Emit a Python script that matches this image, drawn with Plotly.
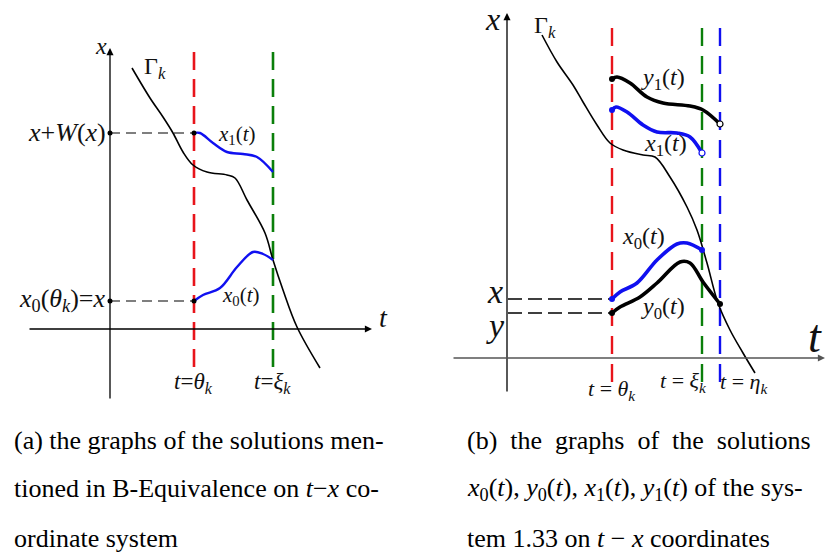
import plotly.graph_objects as go

W, H = 827, 557

# ---------------- Panel (a) data (t, x) in diagram units ----------------
gamma_a_t = [22, 40, 53, 63, 73, 83, 97, 117, 125, 137, 155, 163, 173, 187, 210]
gamma_a_x = [261, 231, 212, 196, 177, 164, 157, 154, 151, 129, 96, 69, 39, 2, -39]
x1_a_t = [84, 90, 103, 117, 133, 147, 163]
x1_a_x = [196, 196, 186, 177, 175, 172, 157]
x0_a_t = [84, 93, 110, 127, 143, 153, 163]
x0_a_x = [28, 34, 41, 62, 77, 75, 69]
theta_a, xi_a = 84, 163
xw_level, x0_level = 196, 28

# ---------------- Panel (b) data ----------------
gamma_b_t = [35, 50, 66, 76, 90, 103, 116, 136, 148, 163, 180, 190, 200, 211, 223, 236, 248]
gamma_b_x = [323, 296, 273, 256, 233, 215, 208, 203, 201, 181, 151, 128, 95, 55, 28, 5, -15]
y1_b_t = [105, 110, 123, 140, 156, 183, 196, 213]
y1_b_x = [279, 281, 275, 261, 255, 252, 248, 234]
x1_b_t = [105, 109, 120, 136, 150, 170, 183, 195]
x1_b_x = [248, 251, 246, 233, 226, 225, 221, 205]
x0_b_t = [105, 113, 130, 150, 170, 180, 195]
x0_b_x = [59, 66, 75, 98, 114, 115, 108]
y0_b_t = [105, 113, 133, 150, 173, 183, 196, 213]
y0_b_x = [45, 51, 61, 75, 96, 95, 76, 54]
theta_b, xi_b, eta_b = 105, 195, 213

RED = "#e8141b"
GREEN = "#0a7f0a"
BLUE = "#1010f0"
SERIF = "Liberation Serif"

fig = go.Figure()


def line(t, x, ax, color, width, dash=None, shape="linear"):
    fig.add_trace(go.Scatter(
        x=t, y=x, mode="lines", xaxis="x" + ax, yaxis="y" + ax,
        line=dict(color=color, width=width, dash=dash, shape=shape, smoothing=1.0),
        hoverinfo="skip", showlegend=False))


def dots(t, x, ax, color, size, fill=None):
    fig.add_trace(go.Scatter(
        x=t, y=x, mode="markers", xaxis="x" + ax, yaxis="y" + ax,
        marker=dict(color=fill or color, size=size, line=dict(color=color, width=1.2 if fill else 0)),
        hoverinfo="skip", showlegend=False))


# ---- panel a ----
line([theta_a, theta_a], [277, -41], "", RED, 2.6, "18px,9px")
line([xi_a, xi_a], [277, -41], "", GREEN, 2.6, "18px,9px")
line([0, theta_a], [xw_level, xw_level], "", "#555555", 1.6, "10px,6px")
line([0, theta_a], [x0_level, x0_level], "", "#555555", 1.6, "10px,6px")
line(gamma_a_t, gamma_a_x, "", "black", 1.6, shape="spline")
line(x1_a_t, x1_a_x, "", BLUE, 2.4, shape="spline")
line(x0_a_t, x0_a_x, "", BLUE, 2.4, shape="spline")
dots([0, theta_a, 0, theta_a], [xw_level, xw_level, x0_level, x0_level], "", "black", 5)

# ---- panel b ----
line([theta_b, theta_b], [330, -27], "2", RED, 2.4, "18px,10px")
line([xi_b, xi_b], [330, -27], "2", GREEN, 2.4, "18px,10px")
line([eta_b, eta_b], [330, -27], "2", BLUE, 2.4, "18px,10px")
line([1, theta_b], [x0_b_x[0], x0_b_x[0]], "2", "black", 1.6, "14px,6px")
line([1, theta_b], [y0_b_x[0], y0_b_x[0]], "2", "black", 1.6, "14px,6px")
line(gamma_b_t, gamma_b_x, "2", "black", 1.6, shape="spline")
line(y1_b_t, y1_b_x, "2", "black", 3.6, shape="spline")
line(x1_b_t, x1_b_x, "2", BLUE, 3.6, shape="spline")
line(x0_b_t, x0_b_x, "2", BLUE, 3.6, shape="spline")
line(y0_b_t, y0_b_x, "2", "black", 3.6, shape="spline")
dots([y1_b_t[0], y0_b_t[0], y0_b_t[-1]], [y1_b_x[0], y0_b_x[0], y0_b_x[-1]], "2", "black", 6)
dots([x1_b_t[0], x0_b_t[0], x0_b_t[-1]], [x1_b_x[0], x0_b_x[0], x0_b_x[-1]], "2", BLUE, 6)
dots([y1_b_t[-1]], [y1_b_x[-1]], "2", "black", 6, fill="white")
dots([x1_b_t[-1]], [x1_b_x[-1]], "2", BLUE, 6, fill="white")

ann = []


def arrow(ax, t0, x0, t1, x1, color="black"):
    ann.append(dict(xref="x" + ax, yref="y" + ax, axref="x" + ax, ayref="y" + ax,
                    x=t1, y=x1, ax=t0, ay=x0, showarrow=True, arrowhead=2,
                    arrowsize=1.1, arrowwidth=1.3, arrowcolor=color, text=""))


def label(ax, t, x, text, size, xanchor="center"):
    ann.append(dict(xref="x" + ax, yref="y" + ax, x=t, y=x, text=text, showarrow=False,
                    xanchor=xanchor, yanchor="middle",
                    font=dict(family=SERIF, size=size, color="#111111")))


# axes panel a
arrow("", 0, -71, 0, 281)
arrow("", -82, 0, 262, 0)
label("", -9, 283, "<i>x</i>", 24)
label("", 273, 12, "<i>t</i>", 28)
label("", 45, 261, "Γ<sub><i>k</i></sub>", 24)
label("", -2, xw_level + 1, "<i>x</i>+<i>W</i>(<i>x</i>)", 26, "right")
label("", -2, x0_level + 1, "<i>x</i><sub>0</sub>(<i>θ</i><sub><i>k</i></sub>)=<i>x</i>", 26, "right")
label("", 127, 194, "<i>x</i><sub>1</sub>(<i>t</i>)", 21)
label("", 131, 33, "<i>x</i><sub>0</sub>(<i>t</i>)", 21)
label("", 83, -54, "<i>t</i>=<i>θ</i><sub><i>k</i></sub>", 23)
label("", 162, -54, "<i>t</i>=<i>ξ</i><sub><i>k</i></sub>", 23)

# axes panel b
arrow("2", 0, -35, 0, 345)
arrow("2", -55, 0, 318, 0, "#555555")
label("2", -15, 339, "<i>x</i>", 32)
label("2", 308, 22, "<i>t</i>", 46)
label("2", 38, 331, "Γ<sub><i>k</i></sub>", 24)
label("2", 156, 279, "<i>y</i><sub>1</sub>(<i>t</i>)", 24)
label("2", 158, 213, "<i>x</i><sub>1</sub>(<i>t</i>)", 24)
label("2", 136, 120, "<i>x</i><sub>0</sub>(<i>t</i>)", 24)
label("2", 156, 50, "<i>y</i><sub>0</sub>(<i>t</i>)", 24)
label("2", -12, 67, "<i>x</i>", 34)
label("2", -12, 33, "<i>y</i>", 34)
label("2", 105, -32, "<i>t</i> = <i>θ</i><sub><i>k</i></sub>", 22)
label("2", 176, -24, "<i>t</i> = <i>ξ</i><sub><i>k</i></sub>", 22)
label("2", 237, -25, "<i>t</i> = <i>η</i><sub><i>k</i></sub>", 22)

# captions
cap_a = ["(a) the graphs of the solutions men-",
         "tioned in B-Equivalence on <i>t</i>−<i>x</i> co-",
         "ordinate system"]
NB = "\u00a0"
cap_b = ["(b)" + NB * 2 + "the" + NB * 2 + "graphs" + NB * 2 + "of" + NB * 2 + "the" + NB * 2 + "solutions",
         "<i>x</i><sub>0</sub>(<i>t</i>), <i>y</i><sub>0</sub>(<i>t</i>), <i>x</i><sub>1</sub>(<i>t</i>), <i>y</i><sub>1</sub>(<i>t</i>) of the sys-",
         "tem 1.33 on <i>t</i> − <i>x</i> coordinates"]
cap_y = [440, 489, 538]
for i in range(3):
    ann.append(dict(xref="paper", yref="paper", x=12 / W, y=1 - cap_y[i] / H, text=cap_a[i],
                    showarrow=False, xanchor="left", yanchor="middle",
                    font=dict(family=SERIF, size=26, color="black")))
    ann.append(dict(xref="paper", yref="paper", x=465 / W, y=1 - cap_y[i] / H, text=cap_b[i],
                    showarrow=False, xanchor="left", yanchor="middle",
                    font=dict(family=SERIF, size=26, color="black")))

ax_common = dict(visible=False, showgrid=False, zeroline=False, fixedrange=True)
fig.update_layout(
    width=W, height=H, margin=dict(l=0, r=0, t=0, b=0),
    paper_bgcolor="white", plot_bgcolor="white",
    xaxis=dict(domain=[0, 410 / W], range=[-110, 300], **ax_common),
    yaxis=dict(domain=[0, 1], range=[-228, 329], **ax_common),
    xaxis2=dict(domain=[410 / W, 1], range=[-97, 320], anchor="y2", **ax_common),
    yaxis2=dict(domain=[0, 1], range=[-199, 358], anchor="x2", **ax_common),
    annotations=ann,
)

fig.write_html("out.html", config={"displayModeBar": False},
               post_script="document.body.style.margin='0px';document.body.style.overflow='hidden';")
